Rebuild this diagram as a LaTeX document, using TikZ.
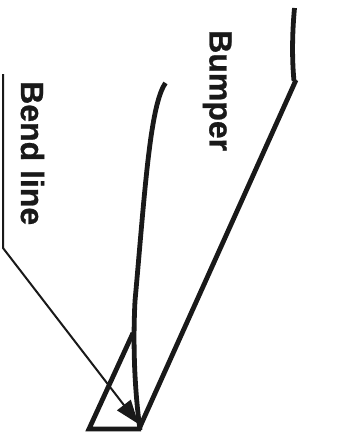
\documentclass[tikz,border=0pt]{standalone}
\usepackage{fontspec}
\setmainfont[BoldFeatures={FakeBold=0.8}]{Liberation Sans}
\usetikzlibrary{arrows.meta}
\tikzset{
  thickline/.style={line width=4.8pt,draw=black!90},
  thinline/.style={line width=2pt,draw=black!90},
  lbl/.style={rotate=-90,anchor=base west,inner sep=0pt,font=\fontsize{32}{32}\selectfont\bfseries,text=black!90}
}
\begin{document}
\begin{tikzpicture}[x=1pt,y=-1pt]
\useasboundingbox (0,0) rectangle (338,436);
\fill[white] (0,0) rectangle (338,436);
\coordinate (r0) at (294.5,8);
\coordinate (r1) at (294,81);
\coordinate (tip) at (139,429);
\coordinate (l0) at (165.5,83);
\coordinate (lm) at (135,301);
\coordinate (t0) at (133,333);
\coordinate (t1) at (89,429);
\coordinate (a0) at (3,74);
\coordinate (a1) at (3,248);
\coordinate (a2) at (138.5,424);
\draw[thickline,line cap=butt] (r0) .. controls (292,35) and (292,60) .. (r1);
\draw[thickline,line cap=butt] (296,80) -- (tip);
\draw[thickline] (l0) .. controls (150,105) and (145,190) .. (lm) .. controls (133,340) and (134,385) .. (140,430);
\draw[thickline,line join=miter] (t0) -- (t1) -- (141,429);
\draw[thinline,-{Triangle[length=24pt,width=17pt]}] (a0) -- (a1) -- (a2);
\node[lbl] (bumper) at (209.5,30) {Bumper};
\node[lbl] (bend) at (21,81) {Bend line};
\end{tikzpicture}
\end{document}
